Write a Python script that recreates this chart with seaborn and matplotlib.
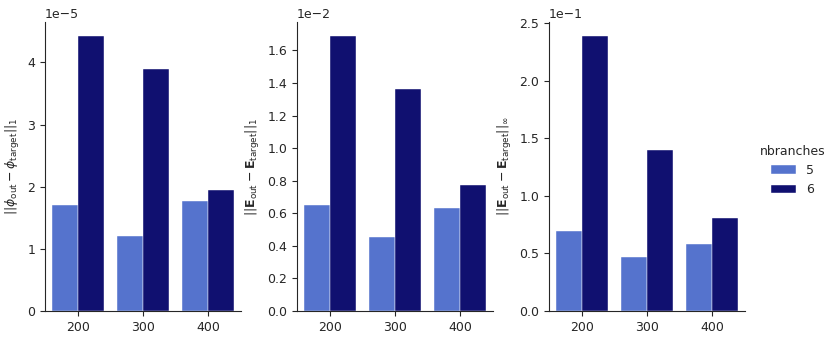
import matplotlib
matplotlib.use("Agg")
import matplotlib.pyplot as plt
import seaborn as sns
import pandas as pd

npoints = [200, 300, 400]
nbranches = [5, 6]
phi_l1_5 = [1.70e-5, 1.20e-5, 1.77e-5]
phi_l1_6 = [4.43e-5, 3.90e-5, 1.95e-5]
E_l1_5 = [0.650e-2, 0.455e-2, 0.630e-2]
E_l1_6 = [1.690e-2, 1.365e-2, 0.775e-2]
E_inf_5 = [0.695e-1, 0.470e-1, 0.585e-1]
E_inf_6 = [2.390e-1, 1.395e-1, 0.805e-1]

rows = []
for i, n in enumerate(npoints):
    rows.append(dict(npoints=n, nbranches=5, phi=phi_l1_5[i], e1=E_l1_5[i], einf=E_inf_5[i]))
    rows.append(dict(npoints=n, nbranches=6, phi=phi_l1_6[i], e1=E_l1_6[i], einf=E_inf_6[i]))
df = pd.DataFrame(rows)

sns.set_style("ticks")
plt.rcParams['font.family'] = ['DejaVu Sans']
plt.rcParams['font.size'] = 9
plt.rcParams['axes.labelsize'] = 9
plt.rcParams['xtick.labelsize'] = 9
plt.rcParams['ytick.labelsize'] = 9
plt.rcParams['legend.fontsize'] = 9
plt.rcParams['legend.title_fontsize'] = 9
palette = {5: "royalblue", 6: "navy"}

fig = plt.figure(figsize=(8.3, 3.41), dpi=100)
bottom, height = 0.088, 0.8475
lefts = [45/830, 297/830, 549/830]
width = 196/830
cols = ["phi", "e1", "einf"]
labels = [r"$||\phi_{\rm out} - \phi_{\rm target}||_1$",
          r"$||\mathbf{E}_{\rm out} - \mathbf{E}_{\rm target}||_1$",
          r"$||\mathbf{E}_{\rm out} - \mathbf{E}_{\rm target}||_\infty$"]
for i in range(3):
    ax = fig.add_axes([lefts[i], bottom, width, height])
    sns.barplot(data=df, x="npoints", y=cols[i], hue="nbranches", palette=palette,
                ax=ax, edgecolor="white", linewidth=0.3, legend=(i == 2))
    ax.set_xlabel("")
    ax.set_ylabel(labels[i])
    ax.ticklabel_format(axis="y", style="sci", scilimits=(0, 0))
    sns.despine(ax=ax)
    if i == 2:
        h, l = ax.get_legend_handles_labels()
        ax.get_legend().remove()
        fig.legend(h, l, title="nbranches", loc="center left",
                   bbox_to_anchor=(0.902, 0.5), frameon=False)

fig.savefig("out.png", dpi=100)
